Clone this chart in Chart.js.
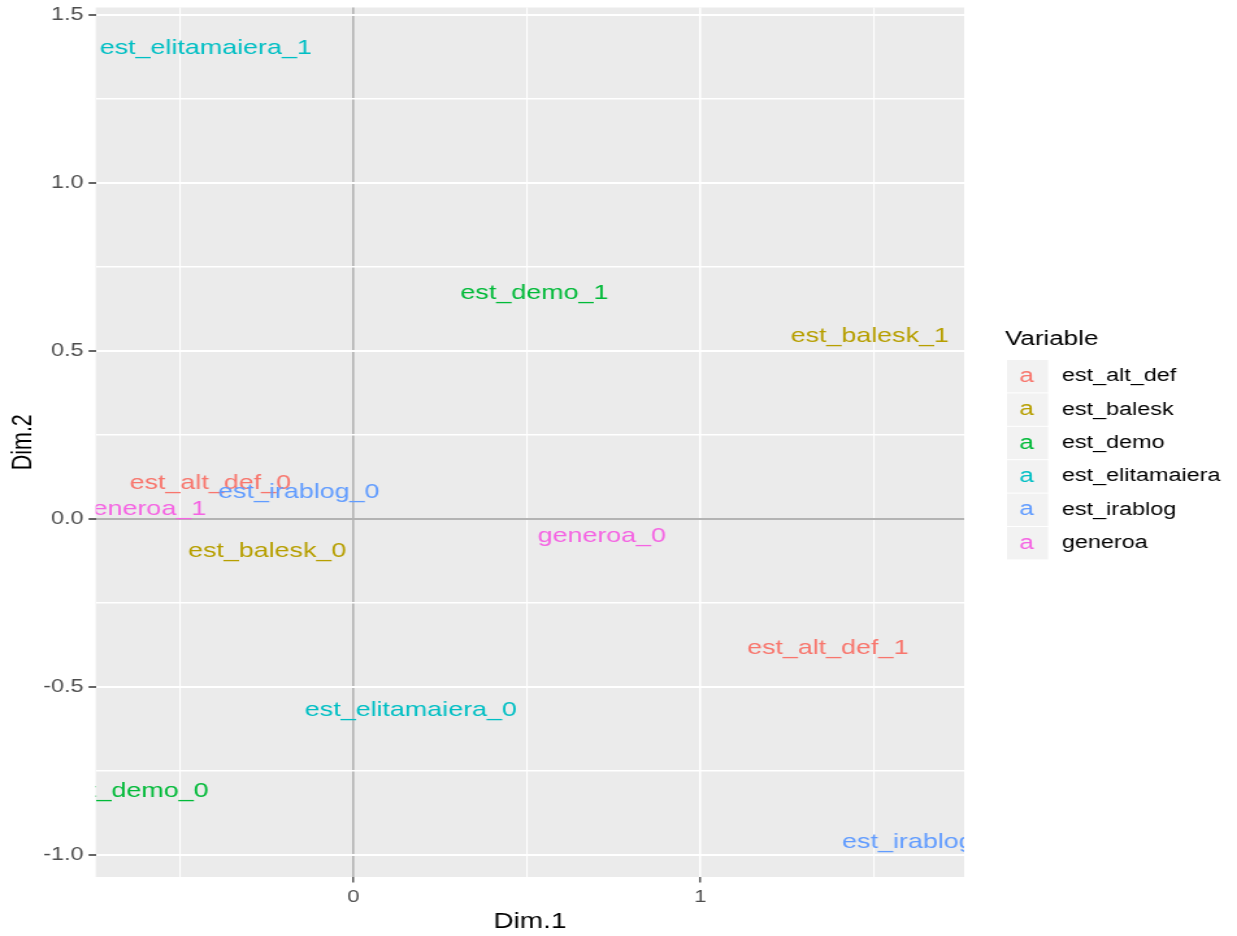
<!DOCTYPE html>
<html>
<head>
<meta charset="utf-8">
<script src="https://cdn.jsdelivr.net/npm/chart.js@4"></script>
<style>
html,body{margin:0;padding:0;background:#ffffff;overflow:hidden;width:1237px;height:936px}
#wrap{position:absolute;left:0;top:0;width:952px;height:936px;transform:scaleX(1.29937);transform-origin:0 0}
</style>
</head>
<body>
<div id="wrap"><canvas id="c"></canvas></div>
<script>
// ---- data ----
const variables = ['est_alt_def','est_balesk','est_demo','est_elitamaiera','est_irablog','generoa'];
const variableColors = ['#F8766D','#B79F00','#00BA38','#00BFC4','#619CFF','#F564E3'];

const pointLabels = ['est_alt_def_0','est_alt_def_1','est_balesk_0','est_balesk_1','est_demo_0','est_demo_1',
                     'est_elitamaiera_0','est_elitamaiera_1','est_irablog_0','est_irablog_1','generoa_0','generoa_1'];
const pointVariable = ['est_alt_def','est_alt_def','est_balesk','est_balesk','est_demo','est_demo',
                       'est_elitamaiera','est_elitamaiera','est_irablog','est_irablog','generoa','generoa'];
const dim1 = [-0.412, 1.367, -0.248, 1.488, -0.630, 0.522, 0.166, -0.425, -0.157, 1.641, 0.716, -0.609];
const dim2 = [ 0.107, -0.384, -0.095, 0.544, -0.810, 0.672, -0.568, 1.401, 0.080, -0.961, -0.051, 0.029];

const xGridValues = [-0.5, 0, 0.5, 1, 1.5];
const xTickValues = [0, 1];
const xTickLabels = ['0', '1'];
const yGridValues = [-1, -0.75, -0.5, -0.25, 0, 0.25, 0.5, 0.75, 1, 1.25, 1.5];
const yTickValues = [-1, -0.5, 0, 0.5, 1, 1.5];
const yTickLabels = ['-1.0', '-0.5', '0.0', '0.5', '1.0', '1.5'];
const xRange = [-0.742, 1.760];
const yRange = [-1.065, 1.521];

// ---- styles ----
const FONT = "'Liberation Sans', Arial, sans-serif";
const PANEL_BG = '#EBEBEB';
const REF_LINE = '#B3B3B3';

const datasets = variables.map((v, vi) => {
  const pts = [];
  const labs = [];
  pointVariable.forEach((pv, i) => {
    if (pv === v) { pts.push({x: dim1[i], y: dim2[i]}); labs.push(pointLabels[i]); }
  });
  return {label: v, data: pts, textLabels: labs, color: variableColors[vi],
          pointRadius: 0, pointHoverRadius: 0, showLine: false};
});

function isMajor(list, v) { return list.some(t => Math.abs(t - v) < 1e-9); }

const panelBg = {
  id: 'panelBg',
  beforeDraw(chart) {
    const {ctx, chartArea: a} = chart;
    ctx.save();
    ctx.fillStyle = PANEL_BG;
    ctx.fillRect(a.left, a.top, a.right - a.left, a.bottom - a.top);
    ctx.restore();
  }
};

const textLabels = {
  id: 'textLabels',
  afterDatasetsDraw(chart) {
    const {ctx, chartArea: a} = chart;
    ctx.save();
    ctx.beginPath();
    ctx.rect(a.left, a.top, a.right - a.left, a.bottom - a.top);
    ctx.clip();
    ctx.font = '20.7px ' + FONT;
    ctx.textAlign = 'center';
    ctx.textBaseline = 'middle';
    chart.data.datasets.forEach((ds, di) => {
      const meta = chart.getDatasetMeta(di);
      ctx.fillStyle = ds.color;
      meta.data.forEach((el, i) => {
        ctx.fillText(ds.textLabels[i], el.x, el.y);
      });
    });
    ctx.restore();
  }
};

const sideLegend = {
  id: 'sideLegend',
  afterDraw(chart) {
    const ctx = chart.ctx;
    ctx.save();
    ctx.textBaseline = 'middle';
    ctx.textAlign = 'left';
    ctx.fillStyle = '#000000';
    ctx.font = '20px ' + FONT;
    ctx.fillText('Variable', 773.4, 339.5);
    const keyLeft = 775, keyW = 31.6, rowH = 33.4, top0 = 360;
    variables.forEach((v, i) => {
      const top = top0 + i * rowH;
      ctx.fillStyle = '#F2F2F2';
      ctx.fillRect(keyLeft, top, keyW, rowH - 1);
      const cy = top + (rowH - 1) / 2;
      ctx.fillStyle = variableColors[i];
      ctx.font = '20px ' + FONT;
      ctx.textAlign = 'center';
      ctx.fillText('a', keyLeft + keyW / 2 - 0.8, cy);
      ctx.fillStyle = '#000000';
      ctx.font = '18px ' + FONT;
      ctx.textAlign = 'left';
      ctx.fillText(v, 817.3, cy);
    });
    ctx.restore();
  }
};

new Chart(document.getElementById('c'), {
  type: 'scatter',
  data: {datasets},
  options: {
    responsive: true,
    maintainAspectRatio: false,
    animation: false,
    events: [],
    layout: {autoPadding: false, padding: {left: 0, right: 210, top: 7.5, bottom: 0}},
    plugins: {legend: {display: false}, tooltip: {enabled: false}},
    scales: {
      x: {
        type: 'linear', min: xRange[0], max: xRange[1],
        afterBuildTicks: s => { s.ticks = xGridValues.map(v => ({value: v})); },
        afterFit: s => { s.height = 59; s.paddingLeft = 0; s.paddingRight = 0; s.paddingTop = 0; s.paddingBottom = 0; },
        border: {display: false},
        grid: {
          color: c => (c.tick && Math.abs(c.tick.value) < 1e-9) ? REF_LINE : '#FFFFFF',
          lineWidth: c => (c.tick && isMajor(xTickValues, c.tick.value)) ? 1.6 : 1.1,
          drawTicks: true, tickLength: 5.5, tickWidth: 1.2,
          tickColor: c => (c.tick && isMajor(xTickValues, c.tick.value)) ? '#333333' : 'rgba(0,0,0,0)'
        },
        ticks: {
          autoSkip: false, maxRotation: 0, padding: 5, color: '#4D4D4D',
          font: {family: FONT, size: 17},
          callback: v => { const k = xTickValues.findIndex(t => Math.abs(t - v) < 1e-9); return k >= 0 ? xTickLabels[k] : ''; }
        },
        title: {display: true, text: 'Dim.1', color: '#000000', font: {family: FONT, size: 21.5}, padding: {top: 0, bottom: 1}}
      },
      y: {
        type: 'linear', min: yRange[0], max: yRange[1],
        afterBuildTicks: s => { s.ticks = yGridValues.map(v => ({value: v})); },
        afterFit: s => { s.width = 73.65; s.paddingLeft = 0; s.paddingRight = 0; s.paddingTop = 0; s.paddingBottom = 0; },
        border: {display: false},
        grid: {
          color: c => (c.tick && Math.abs(c.tick.value) < 1e-9) ? REF_LINE : '#FFFFFF',
          lineWidth: c => (c.tick && isMajor(yTickValues, c.tick.value)) ? 2 : 1.4,
          drawTicks: true, tickLength: 5.5, tickWidth: 1.5,
          tickColor: c => (c.tick && isMajor(yTickValues, c.tick.value)) ? '#333333' : 'rgba(0,0,0,0)'
        },
        ticks: {
          autoSkip: false, padding: 4, color: '#4D4D4D',
          font: {family: FONT, size: 18},
          callback: v => { const k = yTickValues.findIndex(t => Math.abs(t - v) < 1e-9); return k >= 0 ? yTickLabels[k] : ''; }
        },
        title: {display: true, text: 'Dim.2', color: '#000000', font: {family: FONT, size: 21.5}, padding: {top: 5, bottom: 0}}
      }
    }
  },
  plugins: [panelBg, textLabels, sideLegend]
});
</script>
</body>
</html>
